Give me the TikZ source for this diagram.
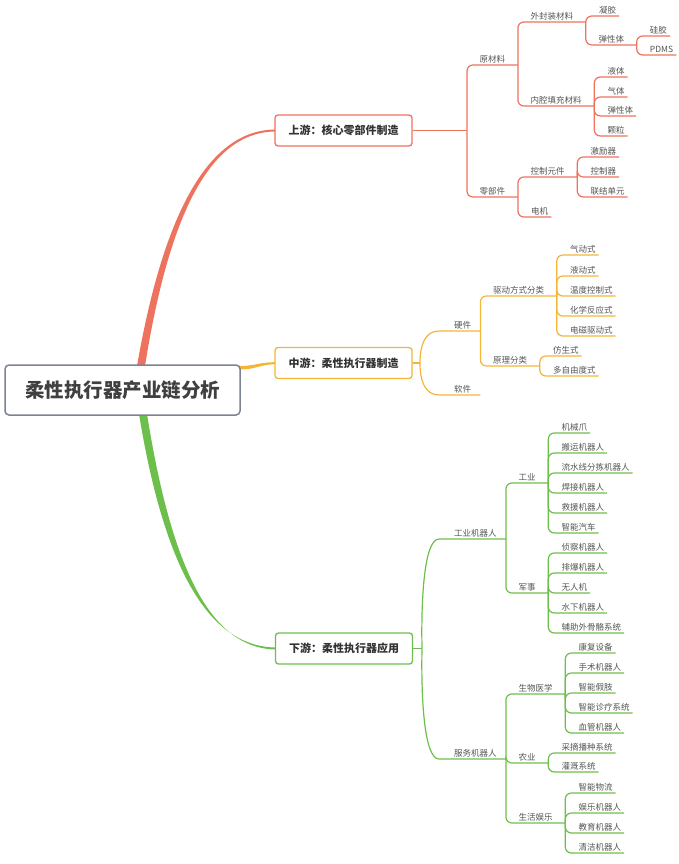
\documentclass[tikz,border=0pt]{standalone}
\usepackage{fontspec}
\setmainfont{Noto Sans CJK SC}
\definecolor{upred}{HTML}{EE735E}
\definecolor{midyel}{HTML}{F4B536}
\definecolor{dngrn}{HTML}{6DBF4B}
\definecolor{rootgray}{HTML}{7B8394}
\definecolor{txtgray}{HTML}{555555}
\begin{document}
\begin{tikzpicture}[x=1pt,y=-1pt,
  topic/.style={anchor=south west,inner ysep=2pt,text depth=0pt,font=\fontsize{8.5}{8.5}\selectfont,text=txtgray},
  leaf/.style={topic,inner xsep=3pt,xshift=10pt},
  branch/.style={topic,inner xsep=12.5pt},
  first/.style={topic,inner xsep=9pt},
  stage/.style={draw,line width=1.3pt,rounded corners=3pt,fill=white,minimum width=137pt,minimum height=31pt,font=\bfseries\fontsize{11}{11}\selectfont,text=black!80},
  link/.style={line width=1.2pt,rounded corners=6pt}]
    \useasboundingbox (0,0) rectangle (679,864);
    \fill[upred] (137,366) .. controls (162,222) and (205,129.5) .. (276,129.5) -- (276,131.5) .. controls (207,131.5) and (168,222) .. (145,366) -- cycle;
    \fill[midyel] (239,366) .. controls (256,366) and (258,362.2) .. (276,362.2) -- (276,364.2) .. controls (260,364.2) and (257,369.5) .. (239,369.5) -- cycle;
    \fill[dngrn] (139,414) .. controls (163,560) and (205,647.5) .. (277,647.5) -- (277,649.5) .. controls (207,649.5) and (170,558) .. (147,414) -- cycle;
    \node[draw=rootgray,line width=1.5pt,rounded corners=4pt,fill=white,minimum width=235pt,minimum height=50pt,font=\bfseries\fontsize{19.5}{19.5}\selectfont,text=black!75] (root) at (122.5,390) {柔性执行器产业链分析};
    \node[stage,draw=upred] (up) at (343.5,130.5) {上游：核心零部件制造};
    \node[stage,draw=midyel] (mid) at (343.5,363) {中游：柔性执行器制造};
    \node[stage,draw=dngrn] (down) at (344,648.5) {下游：柔性执行器应用};
    \coordinate (upj) at (467,130.5);
    \draw[link,upred] (up.east) -- (upj);
    \node[branch] (raw) at (467,65) {原材料};
    \node[branch] (parts) at (467,197) {零部件};
    \draw[link,upred] (upj) |- (raw.south east);
    \draw[link,upred] (upj) |- (parts.south east);
    \node[branch] (seal) at (raw.south east |- 0,22) {外封装材料};
    \node[branch] (filler) at (raw.south east |- 0,106) {内腔填充材料};
    \draw[link,upred] (raw.south east) |- (seal.south east);
    \draw[link,upred] (raw.south east) |- (filler.south east);
    \node[leaf] (gel) at (seal.south east |- 0,16) {凝胶};
    \node[branch] (elastic) at (seal.south east |- 0,45) {弹性体};
    \draw[link,upred] (seal.south east) |- (gel.south east);
    \draw[link,upred] (seal.south east) |- (elastic.south east);
    \node[leaf] (silica) at (elastic.south east |- 0,36) {硅胶};
    \node[leaf] (pdms) at (elastic.south east |- 0,55) {PDMS};
    \draw[link,upred] (elastic.south east) |- (silica.south east);
    \draw[link,upred] (elastic.south east) |- (pdms.south east);
    \node[leaf] (liquid) at (filler.south east |- 0,77) {液体};
    \node[leaf] (gas) at (filler.south east |- 0,97) {气体};
    \node[leaf] (elastic2) at (filler.south east |- 0,116) {弹性体};
    \node[leaf] (grain) at (filler.south east |- 0,136) {颗粒};
    \draw[link,upred] (filler.south east) |- (liquid.south east);
    \draw[link,upred] (filler.south east) |- (gas.south east);
    \draw[link,upred] (filler.south east) |- (elastic2.south east);
    \draw[link,upred] (filler.south east) |- (grain.south east);
    \node[branch] (ctrl) at (parts.south east |- 0,177) {控制元件};
    \node[leaf] (motor) at (parts.south east |- 0,217) {电机};
    \draw[link,upred] (parts.south east) |- (ctrl.south east);
    \draw[link,upred] (parts.south east) |- (motor.south east);
    \node[leaf] (exciter) at (ctrl.south east |- 0,157) {激励器};
    \node[leaf] (controller) at (ctrl.south east |- 0,177) {控制器};
    \node[leaf] (coupler) at (ctrl.south east |- 0,197) {联结单元};
    \draw[link,upred] (ctrl.south east) |- (exciter.south east);
    \draw[link,upred] (ctrl.south east) |- (controller.south east);
    \draw[link,upred] (ctrl.south east) |- (coupler.south east);
    \coordinate (midj) at (420,363);
    \draw[link,midyel] (mid.east) -- (midj);
    \node[first] (hard) at (445,331) {硬件};
    \node[first] (soft) at (445,395) {软件};
    \draw[link,midyel] (midj) .. controls (420,345) and (425,331) .. (hard.south west) -- (hard.south east);
    \draw[link,midyel] (midj) .. controls (420,381) and (425,395) .. (soft.south west) -- (soft.south east);
    \node[branch] (drive) at (hard.south east |- 0,296) {驱动方式分类};
    \node[branch] (princ) at (hard.south east |- 0,366) {原理分类};
    \draw[link,midyel] (hard.south east) |- (drive.south east);
    \draw[link,midyel] (hard.south east) |- (princ.south east);
    \node[leaf] (pneu) at (drive.south east |- 0,255) {气动式};
    \node[leaf] (hydr) at (drive.south east |- 0,276) {液动式};
    \node[leaf] (therm) at (drive.south east |- 0,296) {温度控制式};
    \node[leaf] (chem) at (drive.south east |- 0,316) {化学反应式};
    \node[leaf] (emag) at (drive.south east |- 0,336) {电磁驱动式};
    \draw[link,midyel] (drive.south east) |- (pneu.south east);
    \draw[link,midyel] (drive.south east) |- (hydr.south east);
    \draw[link,midyel] (drive.south east) |- (therm.south east);
    \draw[link,midyel] (drive.south east) |- (chem.south east);
    \draw[link,midyel] (drive.south east) |- (emag.south east);
    \node[leaf] (bionic) at (princ.south east |- 0,356) {仿生式};
    \node[leaf] (multidof) at (princ.south east |- 0,376) {多自由度式};
    \draw[link,midyel] (princ.south east) |- (bionic.south east);
    \draw[link,midyel] (princ.south east) |- (multidof.south east);
    \coordinate (downj) at (422,648.5);
    \draw[link,dngrn] (down.east) -- (downj);
    \node[first] (indrob) at (445,539) {工业机器人};
    \node[first] (servrob) at (445,759) {服务机器人};
    \draw[link,dngrn] (downj) .. controls (421,600) and (424,539) .. (indrob.south west) -- (indrob.south east);
    \draw[link,dngrn] (downj) .. controls (421,697) and (424,759) .. (servrob.south west) -- (servrob.south east);
    \node[branch] (indus) at (indrob.south east |- 0,483) {工业};
    \node[branch] (milit) at (indrob.south east |- 0,593) {军事};
    \draw[link,dngrn] (indrob.south east) |- (indus.south east);
    \draw[link,dngrn] (indrob.south east) |- (milit.south east);
    \node[leaf] (claw) at (indus.south east |- 0,433) {机械爪};
    \node[leaf] (carry) at (indus.south east |- 0,453) {搬运机器人};
    \node[leaf] (sort) at (indus.south east |- 0,473) {流水线分拣机器人};
    \node[leaf] (weld) at (indus.south east |- 0,493) {焊接机器人};
    \node[leaf] (rescue) at (indus.south east |- 0,513) {救援机器人};
    \node[leaf] (car) at (indus.south east |- 0,533) {智能汽车};
    \draw[link,dngrn] (indus.south east) |- (claw.south east);
    \draw[link,dngrn] (indus.south east) |- (carry.south east);
    \draw[link,dngrn] (indus.south east) |- (sort.south east);
    \draw[link,dngrn] (indus.south east) |- (weld.south east);
    \draw[link,dngrn] (indus.south east) |- (rescue.south east);
    \draw[link,dngrn] (indus.south east) |- (car.south east);
    \node[leaf] (scout) at (milit.south east |- 0,553) {侦察机器人};
    \node[leaf] (bomb) at (milit.south east |- 0,573) {排爆机器人};
    \node[leaf] (drone) at (milit.south east |- 0,593) {无人机};
    \node[leaf] (underwater) at (milit.south east |- 0,613) {水下机器人};
    \node[leaf] (exo) at (milit.south east |- 0,633) {辅助外骨骼系统};
    \draw[link,dngrn] (milit.south east) |- (scout.south east);
    \draw[link,dngrn] (milit.south east) |- (bomb.south east);
    \draw[link,dngrn] (milit.south east) |- (drone.south east);
    \draw[link,dngrn] (milit.south east) |- (underwater.south east);
    \draw[link,dngrn] (milit.south east) |- (exo.south east);
    \node[branch] (bio) at (servrob.south east |- 0,694) {生物医学};
    \node[branch] (agri) at (servrob.south east |- 0,763) {农业};
    \node[branch] (life) at (servrob.south east |- 0,823) {生活娱乐};
    \draw[link,dngrn] (servrob.south east) |- (bio.south east);
    \draw[link,dngrn] (servrob.south east) |- (agri.south east);
    \draw[link,dngrn] (servrob.south east) |- (life.south east);
    \node[leaf] (rehab) at (bio.south east |- 0,653) {康复设备};
    \node[leaf] (surgery) at (bio.south east |- 0,673) {手术机器人};
    \node[leaf] (limb) at (bio.south east |- 0,693) {智能假肢};
    \node[leaf] (diag) at (bio.south east |- 0,713) {智能诊疗系统};
    \node[leaf] (vessel) at (bio.south east |- 0,733) {血管机器人};
    \draw[link,dngrn] (bio.south east) |- (rehab.south east);
    \draw[link,dngrn] (bio.south east) |- (surgery.south east);
    \draw[link,dngrn] (bio.south east) |- (limb.south east);
    \draw[link,dngrn] (bio.south east) |- (diag.south east);
    \draw[link,dngrn] (bio.south east) |- (vessel.south east);
    \node[leaf] (harvest) at (agri.south east |- 0,753) {采摘播种系统};
    \node[leaf] (irrig) at (agri.south east |- 0,772) {灌溉系统};
    \draw[link,dngrn] (agri.south east) |- (harvest.south east);
    \draw[link,dngrn] (agri.south east) |- (irrig.south east);
    \node[leaf] (logist) at (life.south east |- 0,793) {智能物流};
    \node[leaf] (fun) at (life.south east |- 0,813) {娱乐机器人};
    \node[leaf] (edu) at (life.south east |- 0,833) {教育机器人};
    \node[leaf] (clean) at (life.south east |- 0,853) {清洁机器人};
    \draw[link,dngrn] (life.south east) |- (logist.south east);
    \draw[link,dngrn] (life.south east) |- (fun.south east);
    \draw[link,dngrn] (life.south east) |- (edu.south east);
    \draw[link,dngrn] (life.south east) |- (clean.south east);
\end{tikzpicture}
\end{document}
